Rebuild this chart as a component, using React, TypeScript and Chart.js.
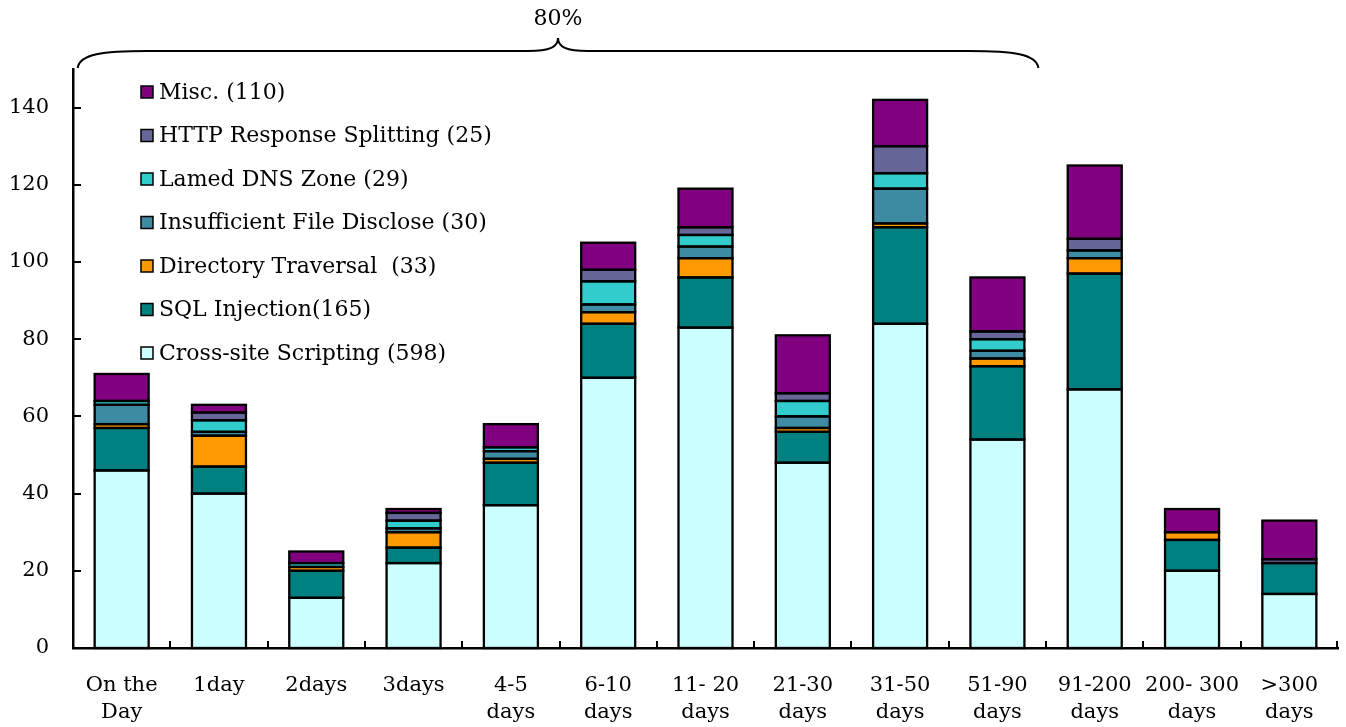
import React, { useEffect, useRef } from "react";
import { Chart, registerables } from "chart.js";

Chart.register(...registerables);

const categories: (string | string[])[] = [
  ["On the", "Day"],
  "1day",
  "2days",
  "3days",
  ["4-5", "days"],
  ["6-10", "days"],
  ["11- 20", "days"],
  ["21-30", "days"],
  ["31-50", "days"],
  ["51-90", "days"],
  ["91-200", "days"],
  ["200- 300", "days"],
  [">300", "days"],
];

const xssValues = [46, 40, 13, 22, 37, 70, 83, 48, 84, 54, 67, 20, 14];
const sqlValues = [11, 7, 7, 4, 11, 14, 13, 8, 25, 19, 30, 8, 8];
const dirValues = [1, 8, 1, 4, 1, 3, 5, 1, 1, 2, 4, 2, 0];
const insuffValues = [5, 1, 0, 1, 2, 2, 3, 3, 9, 2, 2, 0, 0];
const lamedValues = [1, 3, 1, 2, 1, 6, 3, 4, 4, 3, 0, 0, 0];
const httpValues = [0, 2, 0, 2, 0, 3, 2, 2, 7, 2, 3, 0, 1];
const miscValues = [7, 2, 3, 1, 6, 7, 10, 15, 12, 14, 19, 6, 10];

const seriesLabels = [
  "Cross-site Scripting (598)",
  "SQL Injection(165)",
  "Directory Traversal  (33)",
  "Insufficient File Disclose (30)",
  "Lamed DNS Zone (29)",
  "HTTP Response Splitting (25)",
  "Misc. (110)",
];
const seriesColors = ["#CCFFFF", "#008080", "#FF9900", "#3D8CA3", "#33CCCC", "#666699", "#800080"];
const seriesValues = [xssValues, sqlValues, dirValues, insuffValues, lamedValues, httpValues, miscValues];

const yTickValues = [0, 20, 40, 60, 80, 100, 120, 140];
const braceLabel = "80%";

const FONT = '"DejaVu Serif", serif';

const outlinePlugin = {
  id: "outline",
  afterDatasetsDraw(chart: any) {
    const { ctx } = chart;
    ctx.save();
    ctx.strokeStyle = "#000";
    ctx.lineWidth = 2.3;
    chart.data.datasets.forEach((_ds: any, i: number) => {
      const meta = chart.getDatasetMeta(i);
      meta.data.forEach((el: any, j: number) => {
        const v = chart.data.datasets[i].data[j];
        if (v === null || v === undefined) return;
        const left = el.x - el.width / 2;
        const top = Math.min(el.y, el.base);
        const h = Math.abs(el.base - el.y);
        ctx.strokeRect(left, top, el.width, h);
      });
    });
    ctx.restore();
  },
};

const overlayPlugin = {
  id: "overlay",
  afterDraw(chart: any) {
    const { ctx, chartArea } = chart;
    const x = chart.scales.x;
    const y = chart.scales.y;
    ctx.save();
    ctx.strokeStyle = "#000";
    ctx.fillStyle = "#000";
    ctx.lineWidth = 2;
    // inward y ticks
    y.ticks.forEach((t: any) => {
      const py = Math.round(y.getPixelForValue(t.value));
      ctx.beginPath();
      ctx.moveTo(chartArea.left, py);
      ctx.lineTo(chartArea.left + 8, py);
      ctx.stroke();
    });
    // inward x ticks between categories
    const n = categories.length;
    for (let i = 0; i < n; i++) {
      const px =
        i < n - 1 ? Math.round((x.getPixelForValue(i) + x.getPixelForValue(i + 1)) / 2) : chartArea.right - 1;
      ctx.beginPath();
      ctx.moveTo(px, chartArea.bottom);
      ctx.lineTo(px, chartArea.bottom - 7);
      ctx.stroke();
    }
    // brace
    const L = x.getPixelForValue(0) - 44;
    const R = x.getPixelForValue(9) + 41;
    const M = (L + R) / 2;
    const yb = chartArea.top - 1;
    const yl = 51;
    const yp = 38;
    ctx.beginPath();
    ctx.moveTo(L, yb);
    ctx.bezierCurveTo(L + 2, yl + 3, L + 25, yl, L + 70, yl);
    ctx.lineTo(M - 30, yl);
    ctx.bezierCurveTo(M - 8, yl, M, yl - 4, M, yp);
    ctx.bezierCurveTo(M, yl - 4, M + 8, yl, M + 30, yl);
    ctx.lineTo(R - 70, yl);
    ctx.bezierCurveTo(R - 25, yl, R - 2, yl + 3, R, yb);
    ctx.stroke();
    ctx.font = `22px ${FONT}`;
    ctx.textAlign = "center";
    ctx.textBaseline = "middle";
    ctx.fillText(braceLabel, M, 19);
    // legend (reverse order)
    const datasets = chart.data.datasets;
    ctx.textAlign = "left";
    ctx.font = `22px ${FONT}`;
    for (let k = 0; k < datasets.length; k++) {
      const ds = datasets[datasets.length - 1 - k];
      const cy = 92 + k * 43.5;
      ctx.fillStyle = ds.backgroundColor;
      ctx.fillRect(141, cy - 6, 12, 12);
      ctx.lineWidth = 1.5;
      ctx.strokeStyle = "#000";
      ctx.strokeRect(141, cy - 6, 12, 12);
      ctx.fillStyle = "#000";
      ctx.fillText(ds.label, 159, cy + 1);
    }
    ctx.restore();
  },
};

export default function App() {
  const canvasRef = useRef<HTMLCanvasElement | null>(null);

  useEffect(() => {
    document.body.style.margin = "0";
    const canvas = canvasRef.current;
    if (!canvas) return;
    const chart = new Chart(canvas, {
      type: "bar",
      data: {
        labels: categories,
        datasets: seriesValues.map((vals, i) => ({
          label: seriesLabels[i],
          data: vals.map((v) => (v === 0 ? null : v)),
          backgroundColor: seriesColors[i],
          borderWidth: 0,
          barPercentage: 0.555,
          categoryPercentage: 1.0,
        })),
      },
      options: {
        responsive: false,
        animation: false,
        maintainAspectRatio: false,
        layout: { padding: { left: 0, right: 8, top: 69, bottom: 0 } },
        plugins: {
          legend: { display: false },
          tooltip: { enabled: false },
          title: { display: false },
        },
        scales: {
          x: {
            stacked: true,
            grid: { display: false, drawTicks: false },
            border: { display: true, color: "#000", width: 2.5 },
            ticks: {
              color: "#000",
              padding: 24,
              maxRotation: 0,
              autoSkip: false,
              font: { family: FONT, size: 21, lineHeight: 1.3 },
            },
            afterFit: (scale: any) => {
              scale.height = 79;
            },
          },
          y: {
            stacked: true,
            min: 0,
            max: 150,
            grid: { display: false, drawTicks: false },
            border: { display: true, color: "#000", width: 2.5 },
            ticks: {
              color: "#000",
              padding: 24,
              stepSize: 20,
              font: { family: FONT, size: 21 },
            },
            afterBuildTicks: (scale: any) => {
              scale.ticks = yTickValues.map((v) => ({ value: v }));
            },
            afterFit: (scale: any) => {
              scale.width = 73;
            },
          },
        },
      },
      plugins: [outlinePlugin, overlayPlugin],
    });
    return () => chart.destroy();
  }, []);

  return (
    <div style={{ position: "absolute", left: 0, top: 0, width: 1346, height: 727, background: "#fff" }}>
      <canvas ref={canvasRef} width={1346} height={727} style={{ width: 1346, height: 727 }} />
    </div>
  );
}
